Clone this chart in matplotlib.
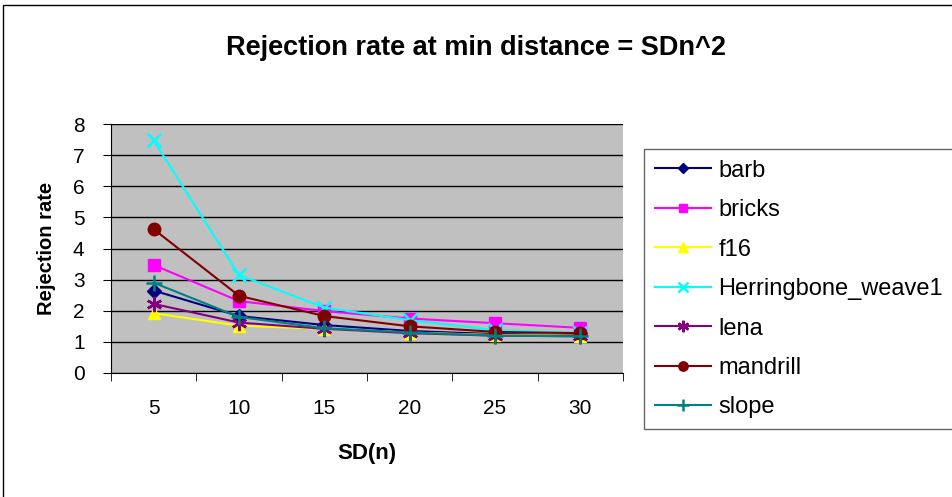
import numpy as np
import matplotlib.pyplot as plt

plt.rcParams['font.family'] = ['Liberation Sans', 'DejaVu Sans']

sd_labels = ["5", "10", "15", "20", "25", "30"]
barb = [2.65, 1.83, 1.54, 1.35, 1.25, 1.22]
bricks = [3.47, 2.31, 1.99, 1.75, 1.6, 1.45]
f16 = [1.92, 1.52, 1.42, 1.3, 1.22, 1.2]
herringbone = [7.47, 3.15, 2.1, 1.7, 1.38, 1.28]
lena = [2.22, 1.62, 1.42, 1.28, 1.2, 1.18]
mandrill = [4.62, 2.48, 1.83, 1.5, 1.32, 1.28]
slope = [2.9, 1.8, 1.44, 1.3, 1.2, 1.18]

series = [
    ("barb", barb, "#000080", "D", 7),
    ("bricks", bricks, "#FF00FF", "s", 8),
    ("f16", f16, "#FFFF00", "^", 9),
    ("Herringbone_weave1", herringbone, "#00FFFF", "x", 10),
    ("lena", lena, "#800080", (6, 2, 0), 11),
    ("mandrill", mandrill, "#800000", "o", 9),
    ("slope", slope, "#008080", "+", 12),
]

W, H = 953, 497
fig = plt.figure(figsize=(W / 100, H / 100), dpi=100)
ax = fig.add_axes([111 / W, 1 - 373 / H, (623 - 111) / W, (373 - 124) / H])
ax.set_facecolor("#C0C0C0")

x = np.arange(len(sd_labels))
handles = []
for name, vals, color, mk, ms in series:
    ln, = ax.plot(x, vals, color=color, marker=mk, markersize=ms, lw=1.5,
                  markeredgewidth=1.8 if mk in ("x", "+", (6, 2, 0)) else 1,
                  markeredgecolor=color, label=name, zorder=3)
    handles.append(ln)

ax.set_xlim(-0.5, 5.5)
ax.set_ylim(0, 8)
ax.set_yticks(range(0, 9))
ax.yaxis.grid(True, color="black", lw=1)
ax.set_axisbelow(True)
ax.set_xticks(x)
ax.set_xticklabels(sd_labels, fontsize=15)
ax.tick_params(axis="x", length=0, pad=19)
ax.set_xticks(np.arange(-0.5, 6, 1), minor=True)
ax.tick_params(axis="x", which="minor", length=6, direction="out", color="black")
ax.tick_params(axis="y", labelsize=15, length=6, direction="out", pad=13)
for s in ("top", "right"):
    ax.spines[s].set_visible(False)
ax.spines["left"].set_color("black")
ax.spines["bottom"].set_color("black")

ax.set_ylabel("Rejection rate", fontsize=14.5, fontweight="bold", va="center")
ax.yaxis.set_label_coords((47 - 111) / 512, 0.5)
ax.set_xlabel("SD(n)", fontsize=16, fontweight="bold", va="center")
ax.xaxis.set_label_coords(0.5, (373 - 453) / 249)
fig.text(476 / W, 1 - 48 / H, "Rejection rate at min distance = SDn^2",
         ha="center", va="center", fontsize=19.5, fontweight="bold")

leg = fig.legend(handles=handles, loc="upper left",
                 bbox_to_anchor=(644 / W, 1 - 149 / H),
                 fontsize=17, frameon=True, fancybox=False, edgecolor="#404040",
                 borderpad=0.45, labelspacing=0.74, handlelength=2.4,
                 handletextpad=0.3, borderaxespad=0)
leg.get_frame().set_linewidth(1)
for h in leg.legend_handles:
    h.set_markersize(h.get_markersize() * 0.75)

# outer chart border, running off the right and bottom edges
fig.patches.append(plt.Rectangle((3 / W, -0.05), 1.0, 1 - 5 / H + 0.05,
                                 transform=fig.transFigure, fill=False,
                                 edgecolor="black", lw=1))

fig.savefig("out.png", dpi=100)
